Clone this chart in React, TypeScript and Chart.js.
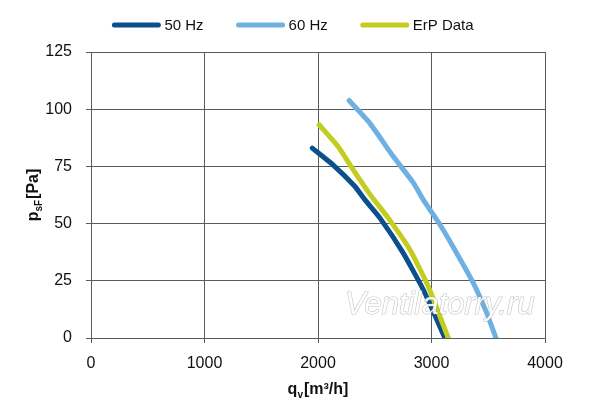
import { useEffect, useRef } from "react";
import Chart from "chart.js/auto";

// airflow q_v [m³/h] and static pressure p_sF [Pa]
const flow50 = [1950, 2132, 2324, 2412, 2545, 2750, 2927, 3118];
const press50 = [83, 75.7, 66.3, 60.5, 52.5, 37.2, 21.2, 0];
const flow60 = [2274, 2456, 2662, 2838, 2927, 3074, 3221, 3368, 3486, 3568];
const press60 = [103.8, 93.9, 79.4, 68, 60.5, 49.6, 37.2, 24.1, 11, 0];
const flowErp = [2009, 2177, 2309, 2471, 2618, 2809, 2971, 3147];
const pressErp = [93.2, 83.7, 73.6, 61.9, 52.5, 38.7, 22.6, 0];

const seriesNames = ["50 Hz", "60 Hz", "ErP Data"];
const seriesColors = ["#0b4f8c", "#6db0e1", "#c2cd1f"];
const xTicks = [0, 1000, 2000, 3000, 4000];
const yTicks = [0, 25, 50, 75, 100, 125];

const narrow = "'Liberation Sans Narrow', 'Liberation Sans', sans-serif";
const plain = "'Liberation Sans', Arial, sans-serif";

const toPoints = (xs: number[], ys: number[]) => xs.map((x, i) => ({ x, y: ys[i] }));

// legend row, axis titles with subscripts, watermark
const extras = {
  id: "extras",
  afterDraw(chart: any) {
    const { ctx, chartArea } = chart;
    ctx.save();

    // legend
    const lineLen = 48;
    const gapText = 4;
    const gapItem = 33;
    ctx.font = `15px ${plain}`;
    const widths = seriesNames.map((n) => ctx.measureText(n).width);
    const total =
      widths.reduce((s, w) => s + w + lineLen + gapText, 0) + gapItem * (seriesNames.length - 1);
    let lx = 293 - total / 2;
    const ly = 25;
    ctx.lineCap = "round";
    ctx.lineWidth = 5;
    ctx.textBaseline = "middle";
    seriesNames.forEach((name, i) => {
      ctx.strokeStyle = seriesColors[i];
      ctx.beginPath();
      ctx.moveTo(lx + 2, ly);
      ctx.lineTo(lx + lineLen - 2, ly);
      ctx.stroke();
      ctx.fillStyle = "#111";
      ctx.fillText(name, lx + lineLen + gapText, ly + 1);
      lx += lineLen + gapText + widths[i] + gapItem;
    });

    ctx.textBaseline = "alphabetic";
    ctx.fillStyle = "#111";

    // x title: q_v [m³/h]
    const big = `bold 16px ${narrow}`;
    const small = `bold 10px ${narrow}`;
    ctx.font = big;
    const wq = ctx.measureText("q").width;
    const wr = ctx.measureText("[m³/h]").width;
    ctx.font = small;
    const wv = ctx.measureText("v").width;
    let x = (chartArea.left + chartArea.right) / 2 - (wq + wv + 1 + wr) / 2;
    const by = 394;
    ctx.font = big;
    ctx.fillText("q", x, by);
    x += wq;
    ctx.font = small;
    ctx.fillText("v", x, by + 4);
    x += wv + 1;
    ctx.font = big;
    ctx.fillText("[m³/h]", x, by);

    // y title: p_sF [Pa]
    ctx.save();
    ctx.translate(38, (chartArea.top + chartArea.bottom) / 2);
    ctx.rotate(-Math.PI / 2);
    ctx.font = big;
    const wp = ctx.measureText("p").width;
    const wpa = ctx.measureText("[Pa]").width;
    ctx.font = small;
    const wsf = ctx.measureText("sF").width;
    let yx = -(wp + wsf + 1 + wpa) / 2;
    ctx.font = big;
    ctx.fillText("p", yx, 0);
    yx += wp;
    ctx.font = small;
    ctx.fillText("sF", yx, 4);
    yx += wsf + 1;
    ctx.font = big;
    ctx.fillText("[Pa]", yx, 0);
    ctx.restore();

    // watermark
    ctx.font = `italic 31px ${plain}`;
    ctx.textAlign = "left";
    ctx.lineWidth = 1.2;
    ctx.lineJoin = "round";
    ctx.strokeStyle = "rgba(150,150,150,0.55)";
    ctx.strokeText("Ventilatorry.ru", 345, 314);
    ctx.fillStyle = "rgba(255,255,255,0.92)";
    ctx.fillText("Ventilatorry.ru", 345, 314);
    ctx.restore();
  },
};

const FanCurveChart = () => {
  const chartRef = useRef<HTMLCanvasElement | null>(null);

  useEffect(() => {
    document.body.style.margin = "0";
    if (!chartRef.current) return;
    const flows = [flow50, flow60, flowErp];
    const presses = [press50, press60, pressErp];
    const chart = new Chart(chartRef.current, {
      type: "line",
      data: {
        datasets: seriesNames.map((name, i) => ({
          label: name,
          data: toPoints(flows[i], presses[i]),
          borderColor: seriesColors[i],
          backgroundColor: seriesColors[i],
          borderWidth: 5,
          borderCapStyle: "round" as const,
          borderJoinStyle: "round" as const,
          pointRadius: 0,
          tension: 0.15,
          fill: false,
          order: 2 - i,
        })),
      },
      options: {
        responsive: false,
        animation: false,
        layout: { padding: { top: 52, right: 55, left: 0, bottom: 0 } },
        plugins: {
          tooltip: { enabled: false },
          legend: { display: false },
        },
        scales: {
          x: {
            type: "linear",
            min: 0,
            max: 4000,
            afterBuildTicks: (axis: any) => {
              axis.ticks = xTicks.map((v) => ({ value: v }));
            },
            afterFit: (axis: any) => {
              axis.height = 70;
            },
            grid: { color: "#5a5a5a", tickLength: 5, tickColor: "#5a5a5a" },
            border: { color: "#5a5a5a" },
            ticks: {
              color: "#111",
              padding: 11,
              font: { family: plain, size: 16 },
              callback: (v: string | number) => String(v),
            },
          },
          y: {
            min: 0,
            max: 125,
            afterBuildTicks: (axis: any) => {
              axis.ticks = yTicks.map((v) => ({ value: v }));
            },
            afterFit: (axis: any) => {
              axis.width = 91;
            },
            grid: { color: "#5a5a5a", tickLength: 5, tickColor: "#5a5a5a" },
            border: { color: "#5a5a5a" },
            ticks: {
              color: "#111",
              padding: 14,
              font: { family: plain, size: 16 },
              callback: (v: string | number) => String(v),
            },
          },
        },
      },
      plugins: [extras],
    });

    return () => {
      chart.destroy();
    };
  }, []);

  return (
    <div style={{ width: 600, height: 408, background: "#fff" }}>
      <canvas ref={chartRef} width={600} height={408} />
    </div>
  );
};

export default function App() {
  return <FanCurveChart />;
}
